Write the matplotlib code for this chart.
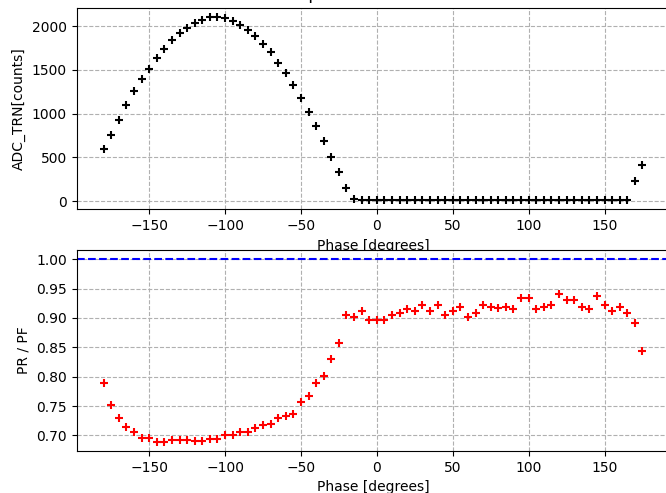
import matplotlib
matplotlib.use("Agg")
import matplotlib.pyplot as plt
import numpy as np

# Phase steps of the scan, in degrees
phase_deg = np.arange(-180, 180, 5)

# Transmitted ADC signal for each phase step
adc_trn_counts = [
    597, 757, 931, 1099, 1255, 1395, 1509, 1642, 1741, 1840,
    1920, 1985, 2038, 2076, 2103, 2107, 2091, 2061, 2015, 1958,
    1889, 1798, 1703, 1582, 1460, 1327, 1174, 1023, 860, 684,
    509, 335, 155, 30,
    12, 12, 12, 12, 12, 12, 12, 12, 12, 12,
    12, 12, 12, 12, 12, 12, 12, 12, 12, 12,
    12, 12, 12, 12, 12, 12, 12, 12, 12, 12,
    12, 12, 12, 12, 12, 12,
    229, 412,
]

# Ratio PR / PF for each phase step
pr_over_pf = [
    0.790, 0.751, 0.729, 0.714, 0.706, 0.696, 0.696, 0.689, 0.689, 0.693,
    0.693, 0.693, 0.690, 0.690, 0.694, 0.694, 0.701, 0.701, 0.705, 0.706,
    0.712, 0.717, 0.720, 0.729, 0.733, 0.737, 0.757, 0.767, 0.789, 0.801,
    0.830, 0.858,
    0.9055, 0.9015, 0.912, 0.897, 0.897, 0.897, 0.9055, 0.909, 0.915, 0.912,
    0.922, 0.912, 0.922, 0.9055, 0.912, 0.919, 0.9015, 0.909, 0.922, 0.919,
    0.916, 0.919, 0.915, 0.934, 0.934, 0.915, 0.919, 0.922, 0.940, 0.930,
    0.930, 0.919, 0.915, 0.937, 0.922, 0.912, 0.919, 0.909, 0.892, 0.843,
]

reference_ratio = 1.0

fig = plt.figure(figsize=(6.66, 4.93), dpi=100)

# Axes placed by hand, the right edge runs past the picture border
ax_top = fig.add_axes([76.7 / 666, 1 - 209.3 / 493, 592.7 / 666, 201.6 / 493])
ax_bot = fig.add_axes([76.7 / 666, 1 - 451 / 493, 592.7 / 666, 201 / 493])

# Top: ADC counts vs phase
ax_top.plot(phase_deg, adc_trn_counts, "k+", markersize=6, markeredgewidth=1.5)
ax_top.set_xlabel("Phase [degrees]")
ax_top.set_ylabel("ADC_TRN[counts]")
ax_top.set_title("RF phase scan results")
ax_top.grid(True, linestyle="--")

# Bottom: reflected / forward power ratio
ax_bot.plot(phase_deg, pr_over_pf, "r+", markersize=6, markeredgewidth=1.5)
ax_bot.axhline(reference_ratio, color="b", linestyle="--", linewidth=1.5)
ax_bot.set_xlabel("Phase [degrees]")
ax_bot.set_ylabel("PR / PF")
ax_bot.grid(True, linestyle="--")

fig.savefig("out.png", dpi=100)
